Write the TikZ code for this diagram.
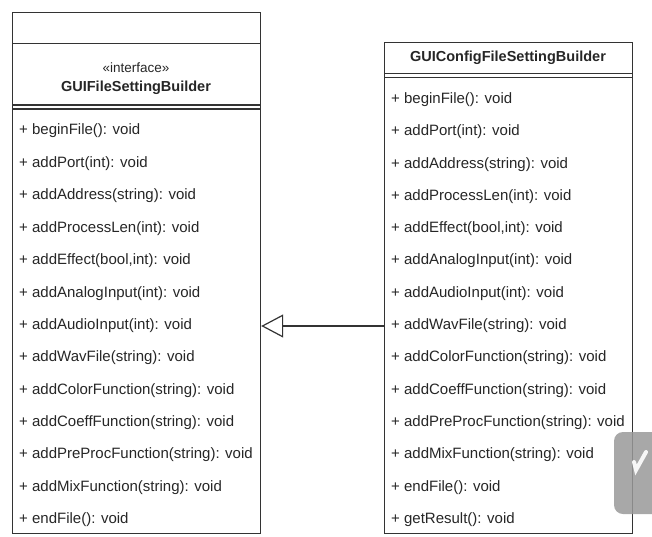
\documentclass[tikz,border=0pt]{standalone}
\usepackage{fontspec}
\setmainfont{Liberation Sans}
\usetikzlibrary{arrows.meta,positioning}

\begin{document}
\begin{tikzpicture}[x=1pt,y=-1pt]
      \tikzstyle{classbox} = [rectangle, draw=black!80, line width=1.2pt, inner sep=0pt, anchor=north west]
      \tikzstyle{divider} = [draw=black!80, line width=1.2pt]
      \tikzstyle{method} = [anchor=west, inner sep=0pt, text=black!85, font=\fontsize{15}{17}\selectfont]
      \tikzstyle{title} = [inner sep=0pt, text=black!85, font=\bfseries\fontsize{14.5}{17}\selectfont]

      \useasboundingbox (0,0) rectangle (652,536);

      % interface
      \node[classbox, minimum width=248pt, minimum height=521pt] (iface) at (12,11.5) {};
      \draw[divider] (iface.west |- 0,43.5) -- (iface.east |- 0,43.5);
      \draw[divider] (iface.west |- 0,105) -- (iface.east |- 0,105);
      \draw[divider] (iface.west |- 0,109) -- (iface.east |- 0,109);
      \node[inner sep=0pt, text=black!85, font=\fontsize{13.5}{15}\selectfont] (stereo) at (136,68) {«interface»};
      \node[title] (ifacename) at (136,88) {GUIFileSettingBuilder};

      \node[method] (i1) at (19,131) {+ beginFile(): void};
      \node[method] (i2) at (19,163.5) {+ addPort(int): void};
      \node[method] (i3) at (19,196) {+ addAddress(string): void};
      \node[method] (i4) at (19,228.5) {+ addProcessLen(int): void};
      \node[method] (i5) at (19,261) {+ addEffect(bool,int): void};
      \node[method] (i6) at (19,293.5) {+ addAnalogInput(int): void};
      \node[method] (i7) at (19,326) {+ addAudioInput(int): void};
      \node[method] (i8) at (19,358) {+ addWavFile(string): void};
      \node[method] (i9) at (19,390.5) {+ addColorFunction(string): void};
      \node[method] (i10) at (19,423) {+ addCoeffFunction(string): void};
      \node[method] (i11) at (19,455) {+ addPreProcFunction(string): void};
      \node[method] (i12) at (19,487.5) {+ addMixFunction(string): void};
      \node[method] (i13) at (19,519.5) {+ endFile(): void};

      % builder
      \node[classbox, minimum width=248pt, minimum height=491pt] (cfg) at (384,41.5) {};
      \draw[divider] (cfg.west |- 0,73.5) -- (cfg.east |- 0,73.5);
      \draw[divider] (cfg.west |- 0,77.5) -- (cfg.east |- 0,77.5);
      \node[title] (cfgname) at (508,58) {GUIConfigFileSettingBuilder};

      \node[method] (c1) at (391,100) {+ beginFile(): void};
      \node[method] (c2) at (391,132) {+ addPort(int): void};
      \node[method] (c3) at (391,164.5) {+ addAddress(string): void};
      \node[method] (c4) at (391,196.5) {+ addProcessLen(int): void};
      \node[method] (c5) at (391,228.5) {+ addEffect(bool,int): void};
      \node[method] (c6) at (391,261) {+ addAnalogInput(int): void};
      \node[method] (c7) at (391,293.5) {+ addAudioInput(int): void};
      \node[method] (c8) at (391,326) {+ addWavFile(string): void};
      \node[method] (c9) at (391,358) {+ addColorFunction(string): void};
      \node[method] (c10) at (391,390.5) {+ addCoeffFunction(string): void};
      \node[method] (c11) at (391,423) {+ addPreProcFunction(string): void};
      \node[method] (c12) at (391,455) {+ addMixFunction(string): void};
      \node[method] (c13) at (391,487.5) {+ endFile(): void};
      \node[method] (c14) at (391,519.5) {+ getResult(): void};

      % realization
      \draw[-{Triangle[open,length=22pt,width=23pt]}, draw=black!80, line width=1.2pt] (cfg.west |- c8) -- (iface.east |- c8);

      % overlay button
      \fill[gray!80, opacity=0.85, rounded corners=9pt] (614,432) rectangle (662,514);
      \draw[white, line width=4pt, line cap=round, opacity=0.9] (634,462) -- (636,470) -- (646,452);
\end{tikzpicture}
\end{document}
